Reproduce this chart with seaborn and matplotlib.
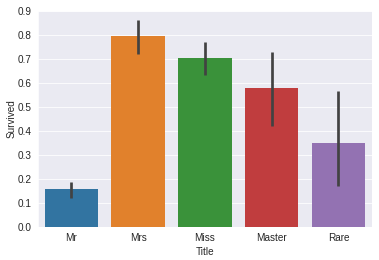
import matplotlib
matplotlib.use("Agg")
import matplotlib.pyplot as plt
import seaborn as sns
import pandas as pd
import numpy as np

titles = ["Mr", "Mrs", "Miss", "Master", "Rare"]
survived = [0.157, 0.795, 0.703, 0.576, 0.348]
ci_low = [0.120, 0.720, 0.630, 0.420, 0.170]
ci_high = [0.188, 0.861, 0.771, 0.728, 0.567]

sns.set_style("darkgrid")
plt.rcParams['font.family'] = ['Liberation Sans', 'DejaVu Sans']

df = pd.DataFrame({"Title": titles, "Survived": survived})

fig = plt.figure(figsize=(379 / 72, 260 / 72), dpi=72)
ax = fig.add_axes([0.100, 0.128, 0.881, 0.831])
sns.barplot(data=df, x="Title", y="Survived", hue="Title", palette="tab10",
            order=titles, hue_order=titles, legend=False, errorbar=None,
            linewidth=0, ax=ax)
ax.vlines(x=np.arange(len(titles)), ymin=ci_low, ymax=ci_high,
          color=".26", lw=2.7, zorder=3)
ax.set_xlim(-0.5, len(titles) - 0.5)
ax.set_ylim(0, 0.9)
ax.set_yticks(np.arange(0, 0.91, 0.1))
ax.set_yticklabels([f"{v:.1f}" for v in np.arange(0, 0.91, 0.1)])
ax.tick_params(labelsize=10, colors=".15", pad=3)
ax.set_xlabel("Title", fontsize=10, color=".15")
ax.set_ylabel("Survived", fontsize=10, color=".15", labelpad=1)
fig.savefig("out.png", dpi=72)
